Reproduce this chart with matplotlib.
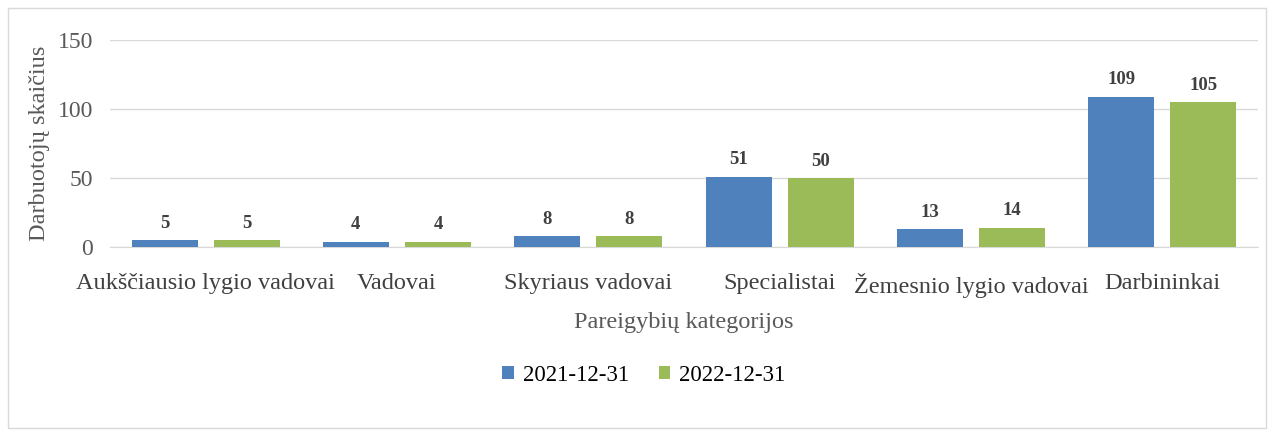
import numpy as np
import matplotlib
matplotlib.use('Agg')
import matplotlib.pyplot as plt
from matplotlib.patches import Rectangle

plt.rcParams['font.family'] = ['Liberation Serif', 'DejaVu Serif']

# Chart data
categories = ['Aukščiausio lygio vadovai', 'Vadovai', 'Skyriaus vadovai',
              'Specialistai', 'Žemesnio lygio vadovai', 'Darbininkai']
series_names = ['2021-12-31', '2022-12-31']
values_2021 = [5, 4, 8, 51, 13, 109]
values_2022 = [5, 4, 8, 50, 14, 105]
y_ticks = [0, 50, 100, 150]

blue = '#4F81BD'
green = '#9BBB59'

fig = plt.figure(figsize=(12.72, 4.32), dpi=100)
ax = fig.add_axes([0.0865, 0.428, 0.9025, 0.479])

# light frame around whole chart, like the Excel chart area
fig.patches.append(Rectangle((0.006, 0.01), 0.989, 0.972, transform=fig.transFigure,
                             fill=False, edgecolor='#D9D9D9', linewidth=1))

x = np.arange(len(categories))
width = 0.345
offset = 0.215
bars1 = ax.bar(x - offset, values_2021, width, color=blue, label=series_names[0], zorder=3)
bars2 = ax.bar(x + offset, values_2022, width, color=green, label=series_names[1], zorder=3)

for bars in (bars1, bars2):
    for b in bars:
        ax.annotate(f'{int(b.get_height())}', (b.get_x() + b.get_width() / 2, b.get_height()),
                    xytext=(0, 6), textcoords='offset points', ha='center', va='bottom',
                    fontsize=13.5, fontweight='bold', color='#404040')

ax.set_xlim(-0.5, len(categories) - 0.5)
ax.set_ylim(0, 150)
ax.set_yticks(y_ticks)
ax.set_xticks(x)
ax.set_xticklabels(categories, fontsize=17.5, color='#404040')
ax.tick_params(axis='y', labelsize=17, labelcolor='#595959', length=0, pad=12)
ax.tick_params(axis='x', length=0, pad=19)
ax.grid(axis='y', color='#D9D9D9', linewidth=1, zorder=0)
for s in ['top', 'right', 'left']:
    ax.spines[s].set_visible(False)
ax.spines['bottom'].set_color('#D9D9D9')

ax.set_xlabel('Pareigybių kategorijos', fontsize=17.5, color='#595959', labelpad=10)
ax.set_ylabel('Darbuotojų skaičius', fontsize=17.5, color='#595959', labelpad=6)

ax.legend(loc='upper center', bbox_to_anchor=(0.465, -0.47), ncol=2, frameon=False,
          fontsize=16.5, handlelength=0.5, handleheight=0.5, columnspacing=1.3, handletextpad=0.4)

fig.savefig('out.png', dpi=100)
